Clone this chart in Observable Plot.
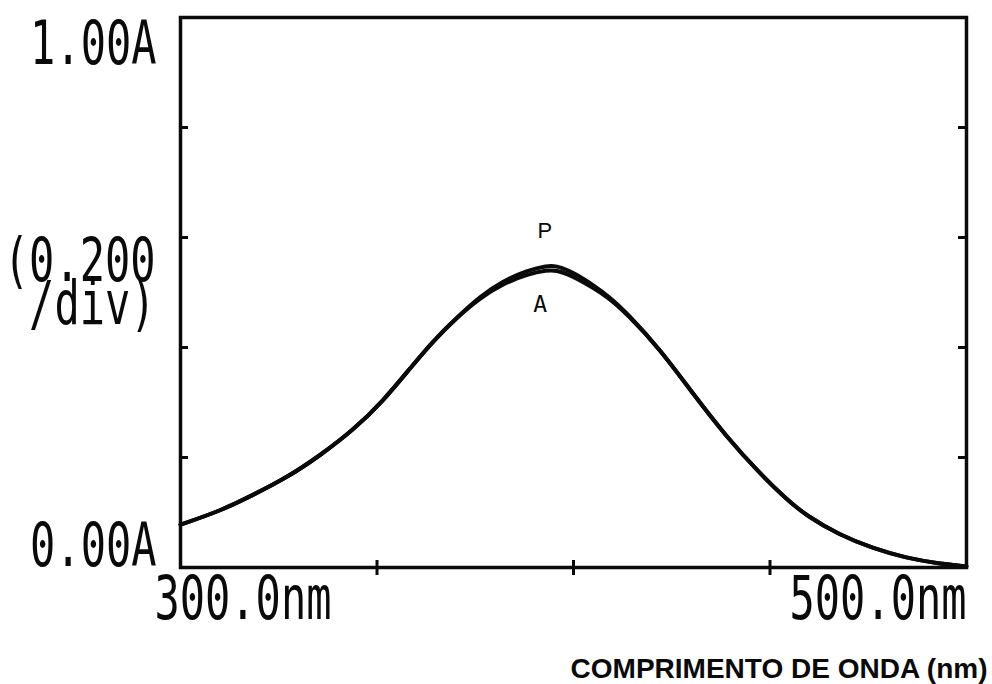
<!DOCTYPE html>
<html>
<head>
<meta charset="utf-8">
<script src="https://cdn.jsdelivr.net/npm/d3@7"></script>
<script src="https://cdn.jsdelivr.net/npm/@observablehq/plot@0.6"></script>
<style>
html, body { margin: 0; padding: 0; background: #fff; }
</style>
</head>
<body>
<div id="chart"></div>
<script>
// Wavelength (nm) and absorbance readings of the two overlapping traces
const wavelength = [300.0, 310.2, 318.5, 327.2, 335.6, 344.0, 351.6, 358.4, 364.3, 370.4, 376.2, 382.1, 388.2, 393.3, 395.8, 398.3, 401.0, 404.9, 409.0, 413.6, 422.0, 430.4, 439.0, 447.4, 454.2, 459.3, 467.7, 476.1, 484.7, 493.1, 500.0];
const absorbanceP = [0.078, 0.103, 0.132, 0.164, 0.204, 0.250, 0.303, 0.362, 0.412, 0.455, 0.493, 0.521, 0.540, 0.549, 0.548, 0.541, 0.532, 0.514, 0.493, 0.463, 0.397, 0.316, 0.237, 0.171, 0.124, 0.094, 0.059, 0.035, 0.017, 0.007, 0.002];
const absorbanceA = [0.078, 0.103, 0.132, 0.164, 0.204, 0.250, 0.303, 0.362, 0.412, 0.455, 0.490, 0.516, 0.533, 0.541, 0.540, 0.534, 0.525, 0.509, 0.490, 0.461, 0.397, 0.316, 0.237, 0.171, 0.124, 0.094, 0.059, 0.035, 0.017, 0.007, 0.002];

const xDomain = [300, 500];
const yDomain = [0, 1];
const xTicks = [350, 400, 450];
const yTicks = [0.2, 0.4, 0.6, 0.8];

const yLabelTop = "1.00A";
const yLabelBottom = "0.00A";
const yScaleText = "(0.200\n/div)";
const xLabelStart = "300.0nm";
const xLabelEnd = "500.0nm";
const xTitle = "COMPRIMENTO DE ONDA (nm)";

const traceNames = ["P", "A"];
const traceLabelX = [392.7, 391.5];
const traceLabelY = [0.60, 0.464];

const dataP = wavelength.map((w, i) => ({w, a: absorbanceP[i]}));
const dataA = wavelength.map((w, i) => ({w, a: absorbanceA[i]}));

const MONO = "DejaVu Sans Mono, monospace";
const INK = "#0a0a0a";

const plot = Plot.plot({
  width: 992,
  height: 684,
  marginLeft: 180,
  marginRight: 26,
  marginTop: 17,
  marginBottom: 117,
  x: {domain: xDomain, axis: null},
  y: {domain: yDomain, axis: null},
  style: {background: "#fff", overflow: "visible"},
  marks: [
    Plot.line(dataA, {x: "w", y: "a", stroke: INK, strokeWidth: 4, curve: "basis"}),
    Plot.line(dataP, {x: "w", y: "a", stroke: INK, strokeWidth: 4, curve: "basis"}),
    Plot.frame({stroke: INK, strokeWidth: 3.5}),
    Plot.ruleY(yTicks, {x1: xDomain[0], x2: xDomain[0], insetRight: -8, stroke: INK, strokeWidth: 3}),
    Plot.ruleY(yTicks, {x1: xDomain[1], x2: xDomain[1], insetLeft: -8, stroke: INK, strokeWidth: 3}),
    Plot.ruleX(xTicks, {y1: 0, y2: 0, insetTop: -7, insetBottom: -8, stroke: INK, strokeWidth: 3}),
    // y-axis labels (dot-matrix style, tall)
    Plot.text([yLabelTop], {x: xDomain[0], y: yDomain[1], text: d => d, textAnchor: "end", lineAnchor: "top", dx: -24, dy: 4, fontFamily: MONO, fontSize: 42, fill: INK}),
    Plot.text([yLabelBottom], {x: xDomain[0], y: yDomain[0], text: d => d, textAnchor: "end", lineAnchor: "bottom", dx: -24, dy: -2, fontFamily: MONO, fontSize: 42, fill: INK}),
    Plot.text([yScaleText], {x: xDomain[0], y: 0.5, text: d => d, textAnchor: "end", lineAnchor: "middle", lineHeight: 0.71, dx: -25, dy: -4, fontFamily: MONO, fontSize: 42, fill: INK}),
    // x-axis end labels
    Plot.text([xLabelStart], {x: xDomain[0], y: yDomain[0], text: d => d, textAnchor: "start", lineAnchor: "top", dx: -26, dy: 9, fontFamily: MONO, fontSize: 42, fill: INK}),
    Plot.text([xLabelEnd], {x: xDomain[1], y: yDomain[0], text: d => d, textAnchor: "end", lineAnchor: "top", dx: 0, dy: 9, fontFamily: MONO, fontSize: 42, fill: INK}),
    // x title
    Plot.text([xTitle], {x: xDomain[1], y: yDomain[0], text: d => d, textAnchor: "end", lineAnchor: "bottom", dx: 21, dy: 110, fontFamily: "Liberation Sans, Arial, sans-serif", fontWeight: "bold", fontSize: 28, fill: INK}),
    // trace labels
    Plot.text([traceNames[0]], {x: traceLabelX[0], y: traceLabelY[0], text: d => d, lineAnchor: "bottom", fontFamily: "Liberation Sans, Arial, sans-serif", fontSize: 22, fill: INK}),
    Plot.text([traceNames[1]], {x: traceLabelX[1], y: traceLabelY[1], text: d => d, lineAnchor: "bottom", fontFamily: "DejaVu Sans Mono", fontSize: 23, fill: INK})
  ]
});

// Stretch the dot-matrix style labels vertically
plot.querySelectorAll('g[font-family="' + MONO + '"] text').forEach(t => {
  const tr = t.getAttribute("transform");
  if (tr) {
    t.setAttribute("transform", tr + " scale(1,1.44)");
  } else {
    const x = +(t.getAttribute("x") || 0), y = +(t.getAttribute("y") || 0);
    t.removeAttribute("x"); t.removeAttribute("y");
    t.setAttribute("transform", `translate(${x},${y}) scale(1,1.44)`);
  }
});

document.getElementById("chart").appendChild(plot);
</script>
</body>
</html>
